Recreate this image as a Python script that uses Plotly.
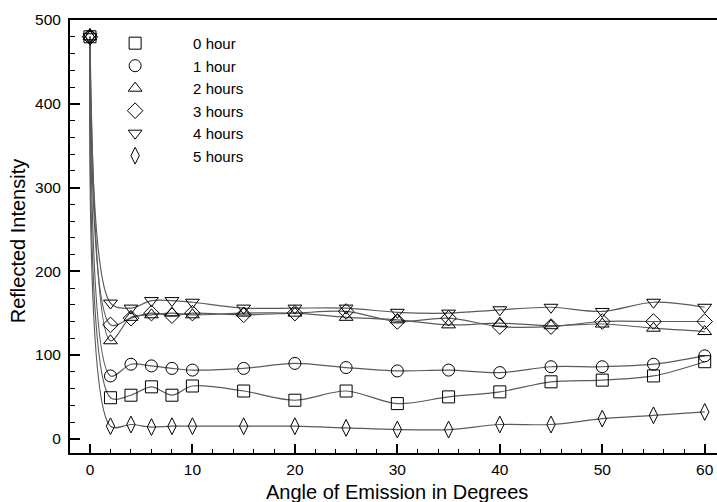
import plotly.graph_objects as go

angles = [0, 2, 4, 6, 8, 10, 15, 20, 25, 30, 35, 40, 45, 50, 55, 60]

h0 = [480, 49, 52, 62, 52, 63, 57, 46, 57, 42, 50, 56, 68, 70, 75, 92]
h1 = [480, 75, 89, 87, 84, 82, 84, 90, 85, 81, 82, 79, 86, 86, 89, 99]
h2 = [480, 117, 145, 148, 150, 148, 150, 150, 145, 142, 136, 138, 135, 137, 132, 128]
h3 = [480, 136, 144, 150, 147, 150, 148, 150, 152, 140, 144, 134, 134, 140, 140, 140]
h4 = [480, 162, 156, 165, 165, 163, 156, 156, 156, 151, 150, 154, 157, 152, 163, 157]
h5 = [480, 15, 17, 14, 15, 15, 15, 15, 13, 11, 11, 17, 17, 24, 28, 32]

series = [
    ("0 hour", h0, "square-open"),
    ("1 hour", h1, "circle-open"),
    ("2 hours", h2, "triangle-up-open"),
    ("3 hours", h3, "diamond-open"),
    ("4 hours", h4, "triangle-down-open"),
    ("5 hours", h5, "diamond-tall-open"),
]

fig = go.Figure()
for name, vals, sym in series:
    fig.add_trace(go.Scatter(
        x=angles, y=vals, mode="lines", showlegend=False, hoverinfo="skip",
        line=dict(color="#5a5a5a", width=1.2, shape="spline", smoothing=0.9),
    ))
for name, vals, sym in series:
    fig.add_trace(go.Scatter(
        x=angles, y=vals, mode="markers", name=name,
        marker=dict(symbol=sym, size=12, color="black", line=dict(color="black", width=1)),
    ))

font = "Liberation Sans, Arial, Helvetica, sans-serif"
fig.update_layout(
    width=717, height=502,
    margin=dict(l=70, r=0, t=20, b=49),
    paper_bgcolor="white", plot_bgcolor="white",
    font=dict(family=font, color="black", size=15.5),
    legend=dict(
        x=0.011, y=0.984, xanchor="left", yanchor="top",
        itemwidth=106, font=dict(size=15, family=font),
        bgcolor="rgba(0,0,0,0)", borderwidth=0,
    ),
    xaxis=dict(
        range=[-1.95, 61.2], showgrid=False, zeroline=False, automargin=False,
        showline=True, linecolor="black", linewidth=2, mirror=True,
        ticks="inside", ticklen=9, tickwidth=2, tickcolor="black",
        tick0=0, dtick=10, tickfont=dict(size=15.5), ticklabelstandoff=1,
        minor=dict(ticks="inside", ticklen=4, tickwidth=1, tickcolor="black", dtick=2, showgrid=False),
    ),
    yaxis=dict(
        range=[-17, 500], showgrid=False, zeroline=False, automargin=False,
        showline=True, linecolor="black", linewidth=2,
        ticks="inside", ticklen=10, tickwidth=2, tickcolor="black",
        tick0=0, dtick=100, tickfont=dict(size=15.5), ticklabelstandoff=4,
        minor=dict(ticks="inside", ticklen=5, tickwidth=1, tickcolor="black", dtick=20, showgrid=False),
    ),
    annotations=[
        dict(text="Angle of Emission in Degrees", xref="paper", yref="paper",
             x=0.506, y=-0.09, xanchor="center", yanchor="middle",
             showarrow=False, font=dict(size=20)),
        dict(text="Reflected Intensity", xref="paper", yref="paper",
             x=-0.079, y=0.491, xanchor="center", yanchor="middle", textangle=-90,
             showarrow=False, font=dict(size=20)),
    ],
)

fig.write_html("out.html", config={"displayModeBar": False},
               post_script="document.body.style.margin='0';")
